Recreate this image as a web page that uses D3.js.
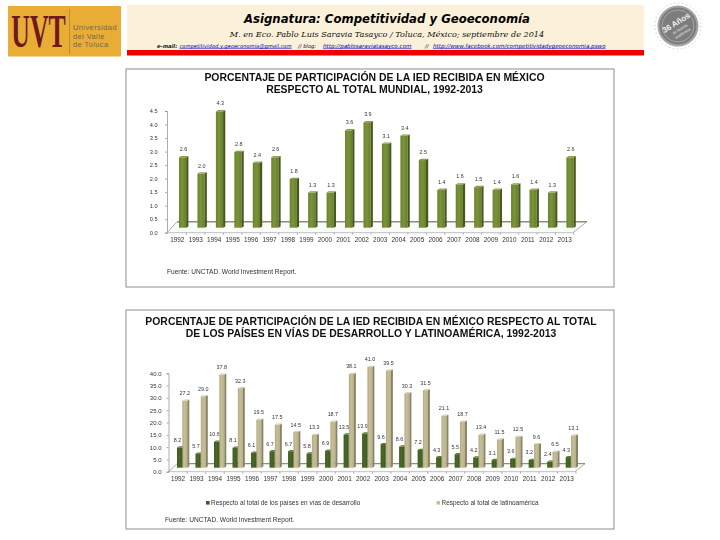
<!DOCTYPE html>
<html><head><meta charset="utf-8">
<script src="https://cdn.jsdelivr.net/npm/d3@7/dist/d3.min.js"></script>
<style>html,body{margin:0;padding:0;background:#fff}svg{display:block}.soft{filter:blur(.3px)}</style>
</head><body><svg id="c" width="720" height="540"></svg>
<script>
const years=["1992","1993","1994","1995","1996","1997","1998","1999","2000","2001","2002","2003","2004","2005","2006","2007","2008","2009","2010","2011","2012","2013"];
const mundial=[2.6,2.0,4.3,2.8,2.4,2.6,1.8,1.3,1.3,3.6,3.9,3.1,3.4,2.5,1.4,1.6,1.5,1.4,1.6,1.4,1.3,2.6];
const desarrollo=[8.2,5.7,10.6,8.1,6.1,6.7,6.7,5.8,6.9,13.5,13.9,9.6,8.6,7.2,4.3,5.5,4.2,3.1,3.6,3.2,2.4,4.3];
const latam=[27.2,29.0,37.8,32.3,19.5,17.5,14.5,13.3,18.7,38.1,41.0,39.5,30.3,31.5,21.1,18.7,13.4,11.5,12.5,9.6,6.5,13.1];
const ticks1=[0,0.5,1,1.5,2,2.5,3,3.5,4,4.5];
const ticks2=[0,5,10,15,20,25,30,35,40];
const title1=["PORCENTAJE DE PARTICIPACIÓN DE LA IED RECIBIDA EN MÉXICO","RESPECTO AL TOTAL MUNDIAL,  1992-2013"];
const title2=["PORCENTAJE DE PARTICIPACIÓN DE LA IED RECIBIDA EN MÉXICO RESPECTO AL TOTAL","DE LOS PAÍSES EN VÍAS DE DESARROLLO Y LATINOAMÉRICA, 1992-2013"];
const legend2=["Respecto al total de los países en vías de desarrollo","Respecto al total de latinoamérica"];
const source="Fuente: UNCTAD. World Investment Report.";

const svg=d3.select("#c");
const defs=svg.append("defs");
function grad(id,a,b,c){const g=defs.append("linearGradient").attr("id",id);
 g.append("stop").attr("offset","0").attr("stop-color",a);
 g.append("stop").attr("offset",".45").attr("stop-color",b);
 g.append("stop").attr("offset","1").attr("stop-color",c);}
grad("gG","#6b8330","#7a9438","#66802c");
grad("gD","#3e5a20","#4a6826","#3e5a20");
grad("gL","#b3aa80","#c6bf9a","#b8af88");

const F="'Liberation Sans',Arial,sans-serif";

// ---------- header
svg.append("rect").attr("x",127).attr("y",5).attr("width",517).attr("height",46).attr("fill","#fbf0d9");
svg.append("rect").attr("x",127).attr("y",50).attr("width",517).attr("height",5.5).attr("fill","#ee0000");
svg.append("text").attr("x",387).attr("y",23).attr("text-anchor","middle").attr("font-family","'DejaVu Sans'").attr("font-style","italic").attr("font-weight","bold").attr("font-size",11.7).attr("fill","#000").text("Asignatura: Competitividad y Geoeconomía");
svg.append("text").attr("x",387).attr("y",37).attr("text-anchor","middle").attr("font-family","'DejaVu Serif'").attr("font-style","italic").attr("font-size",8.1).attr("fill","#111").text("M. en Eco. Pablo Luis Saravia Tasayco / Toluca, México; septiembre de 2014");
const small=(x,fs,t,link,bold)=>{const e=svg.append("text").attr("x",x).attr("y",47.5).attr("font-family","'DejaVu Sans'").attr("font-style","italic").attr("font-size",fs).attr("fill",link?"#0000c0":"#111").text(t);
 if(link)e.attr("text-decoration","underline");
 if(bold)e.attr("font-weight","bold");};
small(157,5.2,"e-mail:",false,true);
small(179.5,5.2,"competitividad.y.geoeconomia@gmail.com",true);
small(298,5.2,"// blog:",false,false);
small(323,5.6,"http://pablosaraviatasayco.com",true);
small(425,5.2,"//",false,false);
small(433,5.6,"http://www.facebook.com/competitividadygeoeconomia.pswo",true);

// logo
svg.append("rect").attr("x",8).attr("y",6).attr("width",113).attr("height",50.5).attr("fill","#e9ad36");
svg.append("text").attr("transform","translate(38.5,47) scale(.56,1)").attr("text-anchor","middle").attr("font-family","'Liberation Serif'").attr("font-weight","bold").attr("font-size",46).attr("fill","#6d1a1e").text("UVT");
svg.append("line").attr("x1",69.5).attr("x2",69.5).attr("y1",9).attr("y2",54).attr("stroke","#a88432").attr("stroke-width",.7);
["Universidad","del Valle","de Toluca"].forEach((t,i)=>svg.append("text").attr("x",73).attr("y",30+i*8.7).attr("font-family",F).attr("font-size",7.4).attr("letter-spacing",.45).attr("fill","#6e6750").text(t));

// seal
const seal=svg.append("g").attr("transform","translate(678,26)");
seal.append("circle").attr("r",23).attr("fill","none").attr("stroke","#bbb").attr("stroke-width",1).attr("stroke-dasharray","1 3");
seal.append("circle").attr("r",19.5).attr("fill","#7d7d7d").attr("stroke","#a5a5a5").attr("stroke-width",2);
seal.append("circle").attr("r",16).attr("fill","none").attr("stroke","#ccc").attr("stroke-width",.5);
const st=seal.append("g").attr("transform","rotate(-32)");
st.append("text").attr("y",-1).attr("text-anchor","middle").attr("font-family",F).attr("font-weight","bold").attr("font-size",8).attr("fill","#f2f2f2").text("36 Años");
st.append("text").attr("y",5).attr("text-anchor","middle").attr("font-family",F).attr("font-size",3.6).attr("fill","#eee").text("de historia");
st.append("text").attr("y",10).attr("text-anchor","middle").attr("font-family",F).attr("font-size",3.6).attr("fill","#eee").text("académica");

// ---------- charts
function chart(o){
 const g=svg.append("g").attr("class","soft");
 g.append("rect").attr("x",126).attr("y",o.top).attr("width",488).attr("height",o.h).attr("fill","#fff").attr("stroke","#a0a0a0").attr("stroke-width",1.2);
 o.title.forEach((t,i)=>g.append("text").attr("x",o.tx).attr("y",o.ty+i*12.4).attr("text-anchor","middle").attr("font-family",F).attr("font-weight","bold").attr("font-size",o.tfs).attr("fill","#111").text(t));
 const y=d3.scaleLinear().domain(o.domain).range([o.y0,o.yTop]);
 const x=d3.scalePoint().domain(years).range([o.x0,o.x1]);
 const left=o.left, right=o.right;
 // floor
 g.append("path").attr("d",`M${left},${o.y0}L${o.fl},${o.y0-o.floor}L${o.fr},${o.y0-o.floor}L${right},${o.y0}Z`).attr("fill","#fbfbf9");
 g.append("path").attr("d",`M${left},${o.y0}L${o.fl},${o.y0-o.floor}M${o.fr},${o.y0-o.floor}L${right},${o.y0}`).attr("fill","none").attr("stroke","#8c8c80").attr("stroke-width",.7);
 g.append("line").attr("x1",o.fl).attr("x2",o.fr).attr("y1",o.y0-o.floor).attr("y2",o.y0-o.floor).attr("stroke",o.backc).attr("stroke-width",o.backw);
 // axes
 const ya=g.append("g").attr("transform",`translate(${left},0)`).call(d3.axisLeft(y).tickValues(o.ticks).tickFormat(d3.format(".1f")).tickSize(2).tickPadding(o.ypad));
 ya.selectAll("text").attr("font-family",F).attr("font-size",o.yfs).attr("fill","#333");
 ya.selectAll("line,path").attr("stroke","#777").attr("stroke-width",.6);
 const xt=g.append("g").attr("transform",`translate(${o.xlab+9.25},${o.y0})`).call(d3.axisBottom(x).tickSize(2).tickFormat(""));
 xt.select("path").remove();
 xt.selectAll("line").attr("stroke","#777").attr("stroke-width",.6);
 g.append("line").attr("x1",left).attr("x2",right).attr("y1",o.y0).attr("y2",o.y0).attr("stroke","#999").attr("stroke-width",.6);
 const xa=g.append("g").attr("transform",`translate(${o.xlab},${o.y0})`).call(d3.axisBottom(x).tickSize(0).tickPadding(4.5));
 xa.select("path").remove();
 xa.selectAll("text").attr("font-family",F).attr("font-size",6.4).attr("fill","#333");
 // 3D bars
 const dx=o.dx, dy=o.dy;
 const base=o.y0-o.baseGap;
 o.series.forEach(s=>{
  const b=g.append("g").selectAll("g").data(s.values.map((v,i)=>({v,yr:years[i]}))).join("g");
  const bl=d=>x(d.yr)+s.off;
  const tp=d=>base-(y(0)-y(d.v));
  b.append("rect").attr("x",bl).attr("y",tp).attr("width",s.w).attr("height",d=>base-tp(d)).attr("fill",`url(#${s.fill})`);
  b.append("path").attr("d",d=>`M${bl(d)+s.w},${tp(d)}l${dx},${-dy}V${base-dy}l${-dx},${dy}Z`).attr("fill",s.side);
  b.append("path").attr("d",d=>`M${bl(d)},${tp(d)}l${dx},${-dy}h${s.w}l${-dx},${dy}Z`).attr("fill",s.topc);
  b.append("text").attr("x",d=>bl(d)+s.w/2+s.lx).attr("y",d=>tp(d)-o.lgap).attr("text-anchor","middle").attr("font-family",F).attr("font-size",5.4).attr("fill","#333").text(d=>d.v.toFixed(1));
 });
 g.append("text").attr("x",o.sx).attr("y",o.sy).attr("font-family",F).attr("font-size",6.6).attr("fill","#333").text(source);
 return g;
}
chart({top:69,h:218,title:title1,tx:374.5,ty:80.5,tfs:10.45,domain:[0,4.5],y0:232.7,yTop:111,x0:183.3,x1:570.7,xlab:-6.5,
 left:167,right:573,fl:177,fr:587,ypad:7.5,yfs:5.6,backc:"#8c8f78",backw:1.4,
 ticks:ticks1,floor:11,baseGap:5,dx:2.2,dy:1.3,lgap:6,sx:167,sy:274,
 series:[{values:mundial,off:-4.3,w:7.2,fill:"gG",side:"#47571f",topc:"#8a9e52",lx:.8}]});
const c2=chart({top:310,h:219,title:title2,tx:371,ty:324.5,tfs:10.4,domain:[0,40],y0:471.7,yTop:373.3,x0:182,x1:570.7,xlab:-4.5,
 left:168.5,right:575,fl:177,fr:585,ypad:5,yfs:6,backc:"#5f6a48",backw:.9,
 ticks:ticks2,floor:8,baseGap:4,dx:2,dy:1.2,lgap:5.5,sx:165,sy:522,
 series:[{values:desarrollo,off:-5,w:5,fill:"gD",side:"#2f4418",topc:"#5d7a38",lx:-2},{values:latam,off:.3,w:5,fill:"gL",side:"#8a8467",topc:"#d7d1b4",lx:0}]});
[[206,"#3e5a20",legend2[0]],[436.5,"#c6bf9a",legend2[1]]].forEach(l=>{
 c2.append("rect").attr("x",l[0]).attr("y",501).attr("width",3.6).attr("height",3.6).attr("fill",l[1]);
 c2.append("text").attr("x",l[0]+5).attr("y",505).attr("font-family",F).attr("font-size",6.45).attr("fill","#333").text(l[2]);
});
</script></body></html>
